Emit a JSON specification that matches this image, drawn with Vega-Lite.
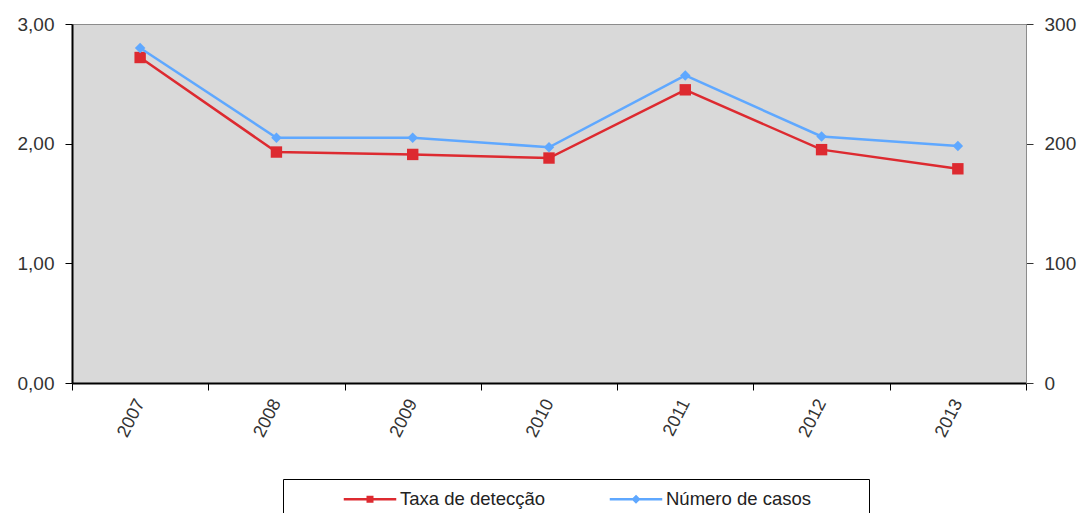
{
  "$schema": "https://vega.github.io/schema/vega-lite/v6.json",
  "width": 954,
  "height": 359,
  "autosize": {"type": "none"},
  "padding": {"left": 72, "top": 24, "right": 55, "bottom": 130},
  "background": "white",
  "data": {
    "values": [
      {"ano": "2007", "serie": "Taxa de detecção", "valor": 2.72},
      {"ano": "2008", "serie": "Taxa de detecção", "valor": 1.93},
      {"ano": "2009", "serie": "Taxa de detecção", "valor": 1.91},
      {"ano": "2010", "serie": "Taxa de detecção", "valor": 1.88},
      {"ano": "2011", "serie": "Taxa de detecção", "valor": 2.45},
      {"ano": "2012", "serie": "Taxa de detecção", "valor": 1.95},
      {"ano": "2013", "serie": "Taxa de detecção", "valor": 1.79},
      {"ano": "2007", "serie": "Número de casos", "valor": 280},
      {"ano": "2008", "serie": "Número de casos", "valor": 205},
      {"ano": "2009", "serie": "Número de casos", "valor": 205},
      {"ano": "2010", "serie": "Número de casos", "valor": 197},
      {"ano": "2011", "serie": "Número de casos", "valor": 257},
      {"ano": "2012", "serie": "Número de casos", "valor": 206},
      {"ano": "2013", "serie": "Número de casos", "valor": 198}
    ]
  },
  "encoding": {
    "x": {
      "field": "ano",
      "type": "ordinal",
      "sort": null,
      "scale": {"type": "band", "paddingInner": 0, "paddingOuter": 0},
      "axis": {
        "title": null,
        "tickBand": "extent",
        "labelAngle": -63,
        "labelFont": "Liberation Sans",
        "labelFontSize": 18,
        "labelColor": "#333333",
        "labelPadding": 10,
        "tickSize": 7,
        "tickColor": "#000000",
        "domainColor": "#000000",
        "domainWidth": 2,
        "grid": false
      }
    }
  },
  "layer": [
    {
      "transform": [{"filter": "datum.serie === 'Taxa de detecção'"}],
      "mark": {
        "type": "line",
        "strokeWidth": 2.5,
        "point": {"shape": "square", "size": 130, "filled": true, "opacity": 1}
      },
      "encoding": {
        "y": {
          "field": "valor",
          "type": "quantitative",
          "scale": {"domain": [0, 3]},
          "axis": {
            "orient": "left",
            "title": null,
            "values": [0, 1, 2, 3],
            "format": ".2f",
            "grid": false,
            "labelFont": "Liberation Sans",
            "labelFontSize": 19,
            "labelColor": "#333333",
            "labelPadding": 11,
            "tickSize": 7,
            "tickColor": "#000000",
            "domainColor": "#000000",
            "domainWidth": 2
          }
        },
        "color": {
          "field": "serie",
          "type": "nominal",
          "scale": {
            "domain": ["Taxa de detecção", "Número de casos"],
            "range": ["#DD2A30", "#5FA8FF"]
          },
          "legend": {
            "orient": "none",
            "legendX": 211,
            "legendY": 455,
            "direction": "horizontal",
            "columns": 2,
            "title": " ",
            "titleOrient": "left",
            "titlePadding": 67,
            "titleFontSize": 18,
            "padding": 6,
            "strokeColor": "#000000",
            "fillColor": "#FFFFFF",
            "symbolSize": 625,
            "labelOffset": 16,
            "columnPadding": 58,
            "labelLimit": 400,
            "labelFont": "Liberation Sans",
            "labelFontSize": 18.5,
            "labelColor": "#222222",
            "labelExpr": "datum.label === 'Número de casos' ? datum.label + '          \u200b' : datum.label",
            "encode": {
              "symbols": {
                "update": {
                  "shape": {"signal": "datum.value === 'Taxa de detecção' ? 'M-2.1,0H2.1M-0.18,-0.18H0.18V0.18H-0.18Z' : 'M-2.1,0H2.1M0,-0.22L0.22,0L0,0.22L-0.22,0Z'"},
                  "fill": {"signal": "datum.value === 'Taxa de detecção' ? '#DD2A30' : '#5FA8FF'"},
                  "stroke": {"signal": "datum.value === 'Taxa de detecção' ? '#DD2A30' : '#5FA8FF'"},
                  "strokeWidth": {"value": 2.5},
                  "opacity": {"value": 1}
                }
              }
            }
          }
        }
      }
    },
    {
      "transform": [{"filter": "datum.serie === 'Número de casos'"}],
      "mark": {
        "type": "line",
        "strokeWidth": 2.5,
        "point": {"shape": "diamond", "size": 110, "filled": true, "opacity": 1}
      },
      "encoding": {
        "y": {
          "field": "valor",
          "type": "quantitative",
          "scale": {"domain": [0, 300]},
          "axis": {
            "orient": "right",
            "title": null,
            "values": [0, 100, 200, 300],
            "format": "d",
            "grid": false,
            "labelFont": "Liberation Sans",
            "labelFontSize": 19,
            "labelColor": "#333333",
            "labelPadding": 11,
            "tickSize": 7,
            "tickColor": "#333333",
            "domainColor": "#8C8C8C",
            "domainWidth": 1
          }
        },
        "color": {"field": "serie", "type": "nominal"}
      }
    }
  ],
  "resolve": {"scale": {"y": "independent"}},
  "config": {
    "view": {"fill": "#D9D9D9", "stroke": "#8C8C8C", "strokeWidth": 1},
    "locale": {
      "number": {"decimal": ",", "thousands": ".", "grouping": [3], "currency": ["R$", ""]}
    }
  }
}
